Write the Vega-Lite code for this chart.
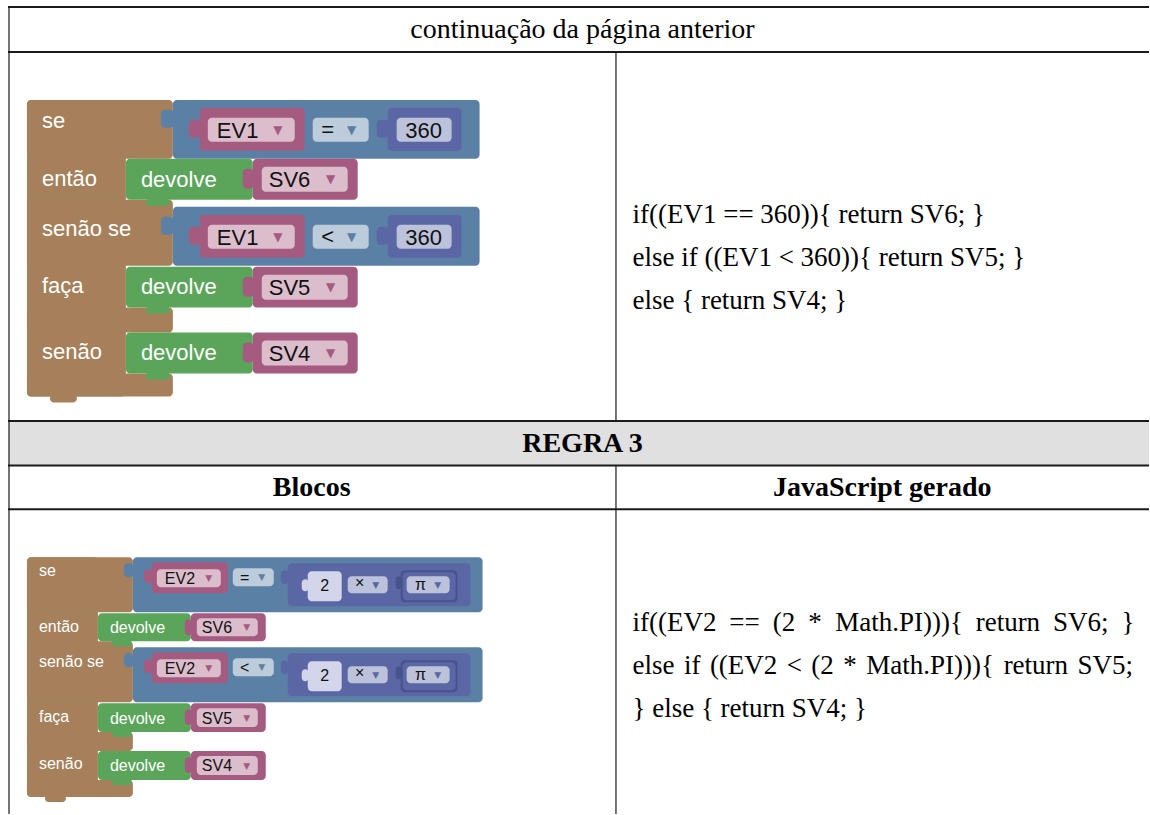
{
  "$schema": "https://vega.github.io/schema/vega-lite/v6.json",
  "width": 1150,
  "height": 815,
  "padding": 0,
  "autosize": {"type": "fit", "contains": "padding"},
  "background": "white",
  "config": {"view": {"stroke": null}},
  "datasets": {
    "band": [{"k": "band", "x": 9, "x2": 1150, "y": 421.5, "y2": 466}],
    "hrules": [
      {"x": 8, "x2": 1150, "y": 7, "y2": 7},
      {"x": 8, "x2": 1150, "y": 52, "y2": 52},
      {"x": 8, "x2": 1150, "y": 421.5, "y2": 421.5},
      {"x": 8, "x2": 1150, "y": 466, "y2": 466},
      {"x": 8, "x2": 1150, "y": 510, "y2": 510}
    ],
    "vrules": [
      {"x": 9, "x2": 9, "y": 7, "y2": 815},
      {"x": 616.5, "x2": 616.5, "y": 52, "y2": 421.5},
      {"x": 616.5, "x2": 616.5, "y": 466, "y2": 815}
    ],
    "blocks": [
      {"k": "ctrl", "x": 27, "x2": 126, "y": 100, "y2": 397},
      {"k": "ctrl", "x": 27, "x2": 173, "y": 100, "y2": 159},
      {"k": "ctrl", "x": 27, "x2": 173, "y": 200, "y2": 266},
      {"k": "ctrl", "x": 27, "x2": 173, "y": 308, "y2": 333},
      {"k": "ctrl", "x": 27, "x2": 173, "y": 374, "y2": 397},
      {"k": "ctrl", "x": 50, "x2": 77, "y": 395, "y2": 403},
      {"k": "logic", "x": 173, "x2": 480, "y": 100, "y2": 159},
      {"k": "logic", "x": 161, "x2": 174, "y": 110, "y2": 128},
      {"k": "logic", "x": 173, "x2": 480, "y": 207, "y2": 266},
      {"k": "logic", "x": 161, "x2": 174, "y": 217, "y2": 235},
      {"k": "var", "x": 200, "x2": 305, "y": 108, "y2": 151},
      {"k": "var", "x": 189, "x2": 201, "y": 120, "y2": 138},
      {"k": "var", "x": 200, "x2": 305, "y": 215, "y2": 258},
      {"k": "var", "x": 189, "x2": 201, "y": 227, "y2": 245},
      {"k": "math", "x": 388, "x2": 462, "y": 108, "y2": 151},
      {"k": "math", "x": 377, "x2": 389, "y": 120, "y2": 138},
      {"k": "math", "x": 388, "x2": 462, "y": 215, "y2": 258},
      {"k": "math", "x": 377, "x2": 389, "y": 227, "y2": 245},
      {"k": "proc", "x": 126, "x2": 253, "y": 159, "y2": 200},
      {"k": "proc", "x": 146, "x2": 170, "y": 199, "y2": 206},
      {"k": "proc", "x": 126, "x2": 253, "y": 267, "y2": 308},
      {"k": "proc", "x": 146, "x2": 170, "y": 307, "y2": 314},
      {"k": "proc", "x": 126, "x2": 253, "y": 333, "y2": 374},
      {"k": "proc", "x": 146, "x2": 170, "y": 373, "y2": 380},
      {"k": "var", "x": 253, "x2": 358, "y": 159, "y2": 200},
      {"k": "var", "x": 243, "x2": 254, "y": 169, "y2": 189},
      {"k": "var", "x": 253, "x2": 358, "y": 267, "y2": 308},
      {"k": "var", "x": 243, "x2": 254, "y": 277, "y2": 297},
      {"k": "var", "x": 253, "x2": 358, "y": 333, "y2": 374},
      {"k": "var", "x": 243, "x2": 254, "y": 343, "y2": 363},
      {"k": "varf", "x": 208, "x2": 295, "y": 118, "y2": 142},
      {"k": "varf", "x": 208, "x2": 295, "y": 225, "y2": 249},
      {"k": "varf", "x": 262, "x2": 348, "y": 167, "y2": 192},
      {"k": "varf", "x": 262, "x2": 348, "y": 275, "y2": 300},
      {"k": "varf", "x": 262, "x2": 348, "y": 341, "y2": 366},
      {"k": "opf", "x": 313, "x2": 369, "y": 118, "y2": 142},
      {"k": "opf", "x": 313, "x2": 369, "y": 225, "y2": 249},
      {"k": "mathf", "x": 397, "x2": 452, "y": 118, "y2": 142},
      {"k": "mathf", "x": 397, "x2": 452, "y": 225, "y2": 249},

      {"k": "ctrl", "x": 27, "x2": 98, "y": 558, "y2": 798},
      {"k": "ctrl", "x": 27, "x2": 133, "y": 558, "y2": 613},
      {"k": "ctrl", "x": 27, "x2": 133, "y": 642, "y2": 703},
      {"k": "ctrl", "x": 27, "x2": 133, "y": 733, "y2": 752},
      {"k": "ctrl", "x": 27, "x2": 133, "y": 781, "y2": 798},
      {"k": "ctrl", "x": 45, "x2": 66, "y": 796, "y2": 803},
      {"k": "logic", "x": 133, "x2": 483, "y": 558, "y2": 613},
      {"k": "logic", "x": 124, "x2": 134, "y": 564, "y2": 578},
      {"k": "logic", "x": 133, "x2": 483, "y": 648, "y2": 703},
      {"k": "logic", "x": 124, "x2": 134, "y": 654, "y2": 668},
      {"k": "var", "x": 152, "x2": 228, "y": 563, "y2": 594},
      {"k": "var", "x": 144, "x2": 153, "y": 570, "y2": 584},
      {"k": "var", "x": 152, "x2": 228, "y": 653, "y2": 684},
      {"k": "var", "x": 144, "x2": 153, "y": 660, "y2": 674},
      {"k": "opf", "x": 233, "x2": 274, "y": 569, "y2": 587},
      {"k": "opf", "x": 233, "x2": 274, "y": 659, "y2": 677},
      {"k": "math", "x": 288, "x2": 471, "y": 564, "y2": 607},
      {"k": "math", "x": 281, "x2": 289, "y": 571, "y2": 585},
      {"k": "math", "x": 288, "x2": 471, "y": 654, "y2": 697},
      {"k": "math", "x": 281, "x2": 289, "y": 661, "y2": 675},
      {"k": "numf", "x": 308, "x2": 342, "y": 572, "y2": 602},
      {"k": "numf", "x": 302, "x2": 309, "y": 580, "y2": 592},
      {"k": "numf", "x": 308, "x2": 342, "y": 662, "y2": 692},
      {"k": "numf", "x": 302, "x2": 309, "y": 670, "y2": 682},
      {"k": "mathf", "x": 348, "x2": 388, "y": 577, "y2": 594},
      {"k": "mathf", "x": 348, "x2": 388, "y": 667, "y2": 684},
      {"k": "mathd", "x": 401, "x2": 458, "y": 571, "y2": 603},
      {"k": "mathd", "x": 396, "x2": 402, "y": 577, "y2": 590},
      {"k": "math", "x": 403, "x2": 456, "y": 573, "y2": 601},
      {"k": "mathf", "x": 407, "x2": 450, "y": 577, "y2": 594},
      {"k": "mathd", "x": 401, "x2": 458, "y": 661, "y2": 693},
      {"k": "mathd", "x": 396, "x2": 402, "y": 667, "y2": 680},
      {"k": "math", "x": 403, "x2": 456, "y": 663, "y2": 691},
      {"k": "mathf", "x": 407, "x2": 450, "y": 667, "y2": 684},
      {"k": "proc", "x": 98, "x2": 191, "y": 614, "y2": 642},
      {"k": "proc", "x": 112, "x2": 132, "y": 641, "y2": 647},
      {"k": "proc", "x": 98, "x2": 191, "y": 704, "y2": 733},
      {"k": "proc", "x": 112, "x2": 132, "y": 732, "y2": 738},
      {"k": "proc", "x": 98, "x2": 191, "y": 752, "y2": 781},
      {"k": "proc", "x": 112, "x2": 132, "y": 780, "y2": 786},
      {"k": "var", "x": 191, "x2": 266, "y": 614, "y2": 642},
      {"k": "var", "x": 185, "x2": 192, "y": 620, "y2": 636},
      {"k": "var", "x": 191, "x2": 266, "y": 704, "y2": 733},
      {"k": "var", "x": 185, "x2": 192, "y": 710, "y2": 726},
      {"k": "var", "x": 191, "x2": 266, "y": 752, "y2": 781},
      {"k": "var", "x": 185, "x2": 192, "y": 758, "y2": 774},
      {"k": "varf", "x": 157, "x2": 221, "y": 570, "y2": 588},
      {"k": "varf", "x": 157, "x2": 221, "y": 660, "y2": 678},
      {"k": "varf", "x": 197, "x2": 258, "y": 619, "y2": 637},
      {"k": "varf", "x": 197, "x2": 258, "y": 709, "y2": 728},
      {"k": "varf", "x": 197, "x2": 258, "y": 757, "y2": 776}
    ],
    "labels1": [
      {"t": "se", "x": 42, "y": 128},
      {"t": "então", "x": 42, "y": 186},
      {"t": "senão se", "x": 42, "y": 236},
      {"t": "faça", "x": 42, "y": 293},
      {"t": "senão", "x": 42, "y": 359},
      {"t": "devolve", "x": 141, "y": 187},
      {"t": "devolve", "x": 141, "y": 294},
      {"t": "devolve", "x": 141, "y": 360}
    ],
    "values1": [
      {"t": "EV1", "x": 217, "y": 138},
      {"t": "EV1", "x": 217, "y": 245},
      {"t": "SV6", "x": 269, "y": 187},
      {"t": "SV5", "x": 269, "y": 295},
      {"t": "SV4", "x": 269, "y": 361}
    ],
    "cvalues1": [
      {"t": "=", "x": 328, "y": 137},
      {"t": "<", "x": 328, "y": 244},
      {"t": "360", "x": 424, "y": 138},
      {"t": "360", "x": 424, "y": 245}
    ],
    "arrows1": [
      {"k": "var", "x": 278, "y": 130},
      {"k": "var", "x": 278, "y": 237},
      {"k": "logic", "x": 352, "y": 130},
      {"k": "logic", "x": 352, "y": 237},
      {"k": "var", "x": 331, "y": 179.5},
      {"k": "var", "x": 331, "y": 287.5},
      {"k": "var", "x": 331, "y": 353.5}
    ],
    "labels2": [
      {"t": "se", "x": 39, "y": 577},
      {"t": "então", "x": 39, "y": 633},
      {"t": "senão se", "x": 39, "y": 668},
      {"t": "faça", "x": 39, "y": 723},
      {"t": "senão", "x": 39, "y": 770},
      {"t": "devolve", "x": 110, "y": 634},
      {"t": "devolve", "x": 110, "y": 725},
      {"t": "devolve", "x": 110, "y": 772}
    ],
    "values2": [
      {"t": "EV2", "x": 165, "y": 585},
      {"t": "EV2", "x": 165, "y": 675},
      {"t": "SV6", "x": 202, "y": 634},
      {"t": "SV5", "x": 202, "y": 725},
      {"t": "SV4", "x": 202, "y": 772}
    ],
    "cvalues2": [
      {"t": "=", "x": 245, "y": 584},
      {"t": "<", "x": 245, "y": 674},
      {"t": "2", "x": 325, "y": 592},
      {"t": "2", "x": 325, "y": 682},
      {"t": "×", "x": 360, "y": 589},
      {"t": "×", "x": 360, "y": 679},
      {"t": "π", "x": 421, "y": 591},
      {"t": "π", "x": 421, "y": 681}
    ],
    "arrows2": [
      {"k": "var", "x": 209, "y": 579},
      {"k": "var", "x": 209, "y": 669},
      {"k": "logic", "x": 262, "y": 578},
      {"k": "logic", "x": 262, "y": 668},
      {"k": "math", "x": 376, "y": 585.5},
      {"k": "math", "x": 376, "y": 675.5},
      {"k": "math", "x": 438, "y": 585.5},
      {"k": "math", "x": 438, "y": 675.5},
      {"k": "var", "x": 247, "y": 628},
      {"k": "var", "x": 247, "y": 718.5},
      {"k": "var", "x": 247, "y": 766.5}
    ],
    "heads": [
      {"t": "continuação da página anterior", "x": 583, "y": 38}
    ],
    "boldheads": [
      {"t": "REGRA 3", "x": 583, "y": 453},
      {"t": "Blocos", "x": 312, "y": 497},
      {"t": "JavaScript gerado", "x": 883, "y": 497}
    ],
    "code": [
      {"t": "if((EV1 == 360)){ return SV6; }", "x": 633, "y": 223},
      {"t": "else if ((EV1 < 360)){ return SV5; }", "x": 633, "y": 266},
      {"t": "else { return SV4; }", "x": 633, "y": 309},
      {"t": "if((EV2", "x": 633, "y": 632},
      {"t": "==", "x": 730, "y": 632},
      {"t": "(2", "x": 773.5, "y": 632},
      {"t": "*", "x": 809, "y": 632},
      {"t": "Math.PI))){", "x": 836, "y": 632},
      {"t": "return", "x": 976.5, "y": 632},
      {"t": "SV6;", "x": 1054, "y": 632},
      {"t": "}", "x": 1122.5, "y": 632},
      {"t": "else", "x": 633, "y": 675},
      {"t": "if", "x": 684.5, "y": 675},
      {"t": "((EV2", "x": 710.5, "y": 675},
      {"t": "<", "x": 787.5, "y": 675},
      {"t": "(2", "x": 812, "y": 675},
      {"t": "*", "x": 844, "y": 675},
      {"t": "Math.PI))){", "x": 867, "y": 675},
      {"t": "return", "x": 1004.5, "y": 675},
      {"t": "SV5;", "x": 1078.5, "y": 675},
      {"t": "} else { return SV4; }", "x": 633, "y": 718}
    ]
  },
  "layer": [
    {
      "data": {"name": "band"},
      "mark": {"type": "rect"},
      "encoding": {
        "x": {"field": "x", "type": "quantitative", "scale": {"domain": [0, 1150], "nice": false, "zero": false}, "axis": null},
        "x2": {"field": "x2"},
        "y": {"field": "y", "type": "quantitative", "scale": {"domain": [0, 815], "nice": false, "zero": false, "reverse": true}, "axis": null},
        "y2": {"field": "y2"},
        "fill": {"field": "k", "type": "nominal", "legend": null,
          "scale": {"domain": ["band", "ctrl", "logic", "var", "varf", "opf", "math", "mathd", "mathf", "numf", "proc"],
                    "range": ["#e0e0e0", "#a5805b", "#5b80a5", "#a55b80", "#dbbdcc", "#bdccdb", "#5b67a5", "#48528c", "#bdc2db", "#d3d6ea", "#5ba55b"]}}
      }
    },
    {
      "data": {"name": "hrules"},
      "mark": {"type": "rule", "color": "#1a1a1a", "strokeWidth": 2},
      "encoding": {
        "x": {"field": "x", "type": "quantitative", "scale": {"domain": [0, 1150], "nice": false, "zero": false}, "axis": null},
        "x2": {"field": "x2"},
        "y": {"field": "y", "type": "quantitative", "scale": {"domain": [0, 815], "nice": false, "zero": false, "reverse": true}, "axis": null},
        "y2": {"field": "y2"}
      }
    },
    {
      "data": {"name": "vrules"},
      "mark": {"type": "rule", "color": "#1a1a1a", "strokeWidth": 1.2},
      "encoding": {
        "x": {"field": "x", "type": "quantitative", "scale": {"domain": [0, 1150], "nice": false, "zero": false}, "axis": null},
        "x2": {"field": "x2"},
        "y": {"field": "y", "type": "quantitative", "scale": {"domain": [0, 815], "nice": false, "zero": false, "reverse": true}, "axis": null},
        "y2": {"field": "y2"}
      }
    },
    {
      "data": {"name": "blocks"},
      "mark": {"type": "rect", "cornerRadius": 4},
      "encoding": {
        "x": {"field": "x", "type": "quantitative", "scale": {"domain": [0, 1150], "nice": false, "zero": false}, "axis": null},
        "x2": {"field": "x2"},
        "y": {"field": "y", "type": "quantitative", "scale": {"domain": [0, 815], "nice": false, "zero": false, "reverse": true}, "axis": null},
        "y2": {"field": "y2"},
        "fill": {"field": "k", "type": "nominal", "legend": null,
          "scale": {"domain": ["band", "ctrl", "logic", "var", "varf", "opf", "math", "mathd", "mathf", "numf", "proc"],
                    "range": ["#e0e0e0", "#a5805b", "#5b80a5", "#a55b80", "#dbbdcc", "#bdccdb", "#5b67a5", "#48528c", "#bdc2db", "#d3d6ea", "#5ba55b"]}}
      }
    },
    {
      "data": {"name": "labels1"},
      "mark": {"type": "text", "font": "Liberation Sans", "fontSize": 22, "fill": "#ffffff", "align": "left", "baseline": "alphabetic"},
      "encoding": {
        "x": {"field": "x", "type": "quantitative", "scale": {"domain": [0, 1150], "nice": false, "zero": false}, "axis": null},
        "y": {"field": "y", "type": "quantitative", "scale": {"domain": [0, 815], "nice": false, "zero": false, "reverse": true}, "axis": null},
        "text": {"field": "t"}
      }
    },
    {
      "data": {"name": "values1"},
      "mark": {"type": "text", "font": "Liberation Sans", "fontSize": 22, "fill": "#111111", "align": "left", "baseline": "alphabetic"},
      "encoding": {
        "x": {"field": "x", "type": "quantitative", "scale": {"domain": [0, 1150], "nice": false, "zero": false}, "axis": null},
        "y": {"field": "y", "type": "quantitative", "scale": {"domain": [0, 815], "nice": false, "zero": false, "reverse": true}, "axis": null},
        "text": {"field": "t"}
      }
    },
    {
      "data": {"name": "cvalues1"},
      "mark": {"type": "text", "font": "Liberation Sans", "fontSize": 22, "fill": "#111111", "align": "center", "baseline": "alphabetic"},
      "encoding": {
        "x": {"field": "x", "type": "quantitative", "scale": {"domain": [0, 1150], "nice": false, "zero": false}, "axis": null},
        "y": {"field": "y", "type": "quantitative", "scale": {"domain": [0, 815], "nice": false, "zero": false, "reverse": true}, "axis": null},
        "text": {"field": "t"}
      }
    },
    {
      "data": {"name": "arrows1"},
      "mark": {"type": "text", "font": "DejaVu Sans", "fontSize": 12, "align": "center", "baseline": "middle", "text": "▼"},
      "encoding": {
        "x": {"field": "x", "type": "quantitative", "scale": {"domain": [0, 1150], "nice": false, "zero": false}, "axis": null},
        "y": {"field": "y", "type": "quantitative", "scale": {"domain": [0, 815], "nice": false, "zero": false, "reverse": true}, "axis": null},
        "fill": {"field": "k", "type": "nominal", "legend": null,
          "scale": {"domain": ["band", "ctrl", "logic", "var", "varf", "opf", "math", "mathd", "mathf", "numf", "proc"],
                    "range": ["#e0e0e0", "#a5805b", "#5b80a5", "#a55b80", "#dbbdcc", "#bdccdb", "#5b67a5", "#48528c", "#bdc2db", "#d3d6ea", "#5ba55b"]}}
      }
    },
    {
      "data": {"name": "labels2"},
      "mark": {"type": "text", "font": "Liberation Sans", "fontSize": 16, "fill": "#ffffff", "align": "left", "baseline": "alphabetic"},
      "encoding": {
        "x": {"field": "x", "type": "quantitative", "scale": {"domain": [0, 1150], "nice": false, "zero": false}, "axis": null},
        "y": {"field": "y", "type": "quantitative", "scale": {"domain": [0, 815], "nice": false, "zero": false, "reverse": true}, "axis": null},
        "text": {"field": "t"}
      }
    },
    {
      "data": {"name": "values2"},
      "mark": {"type": "text", "font": "Liberation Sans", "fontSize": 16, "fill": "#111111", "align": "left", "baseline": "alphabetic"},
      "encoding": {
        "x": {"field": "x", "type": "quantitative", "scale": {"domain": [0, 1150], "nice": false, "zero": false}, "axis": null},
        "y": {"field": "y", "type": "quantitative", "scale": {"domain": [0, 815], "nice": false, "zero": false, "reverse": true}, "axis": null},
        "text": {"field": "t"}
      }
    },
    {
      "data": {"name": "cvalues2"},
      "mark": {"type": "text", "font": "Liberation Sans", "fontSize": 16, "fill": "#111111", "align": "center", "baseline": "alphabetic"},
      "encoding": {
        "x": {"field": "x", "type": "quantitative", "scale": {"domain": [0, 1150], "nice": false, "zero": false}, "axis": null},
        "y": {"field": "y", "type": "quantitative", "scale": {"domain": [0, 815], "nice": false, "zero": false, "reverse": true}, "axis": null},
        "text": {"field": "t"}
      }
    },
    {
      "data": {"name": "arrows2"},
      "mark": {"type": "text", "font": "DejaVu Sans", "fontSize": 9, "align": "center", "baseline": "middle", "text": "▼"},
      "encoding": {
        "x": {"field": "x", "type": "quantitative", "scale": {"domain": [0, 1150], "nice": false, "zero": false}, "axis": null},
        "y": {"field": "y", "type": "quantitative", "scale": {"domain": [0, 815], "nice": false, "zero": false, "reverse": true}, "axis": null},
        "fill": {"field": "k", "type": "nominal", "legend": null,
          "scale": {"domain": ["band", "ctrl", "logic", "var", "varf", "opf", "math", "mathd", "mathf", "numf", "proc"],
                    "range": ["#e0e0e0", "#a5805b", "#5b80a5", "#a55b80", "#dbbdcc", "#bdccdb", "#5b67a5", "#48528c", "#bdc2db", "#d3d6ea", "#5ba55b"]}}
      }
    },
    {
      "data": {"name": "heads"},
      "mark": {"type": "text", "font": "Liberation Serif", "fontSize": 28, "fill": "#000000", "align": "center", "baseline": "alphabetic"},
      "encoding": {
        "x": {"field": "x", "type": "quantitative", "scale": {"domain": [0, 1150], "nice": false, "zero": false}, "axis": null},
        "y": {"field": "y", "type": "quantitative", "scale": {"domain": [0, 815], "nice": false, "zero": false, "reverse": true}, "axis": null},
        "text": {"field": "t"}
      }
    },
    {
      "data": {"name": "boldheads"},
      "mark": {"type": "text", "font": "Liberation Serif", "fontSize": 28, "fontWeight": "bold", "fill": "#000000", "align": "center", "baseline": "alphabetic"},
      "encoding": {
        "x": {"field": "x", "type": "quantitative", "scale": {"domain": [0, 1150], "nice": false, "zero": false}, "axis": null},
        "y": {"field": "y", "type": "quantitative", "scale": {"domain": [0, 815], "nice": false, "zero": false, "reverse": true}, "axis": null},
        "text": {"field": "t"}
      }
    },
    {
      "data": {"name": "code"},
      "mark": {"type": "text", "font": "Liberation Serif", "fontSize": 27, "fill": "#000000", "align": "left", "baseline": "alphabetic"},
      "encoding": {
        "x": {"field": "x", "type": "quantitative", "scale": {"domain": [0, 1150], "nice": false, "zero": false}, "axis": null},
        "y": {"field": "y", "type": "quantitative", "scale": {"domain": [0, 815], "nice": false, "zero": false, "reverse": true}, "axis": null},
        "text": {"field": "t"}
      }
    }
  ]
}
